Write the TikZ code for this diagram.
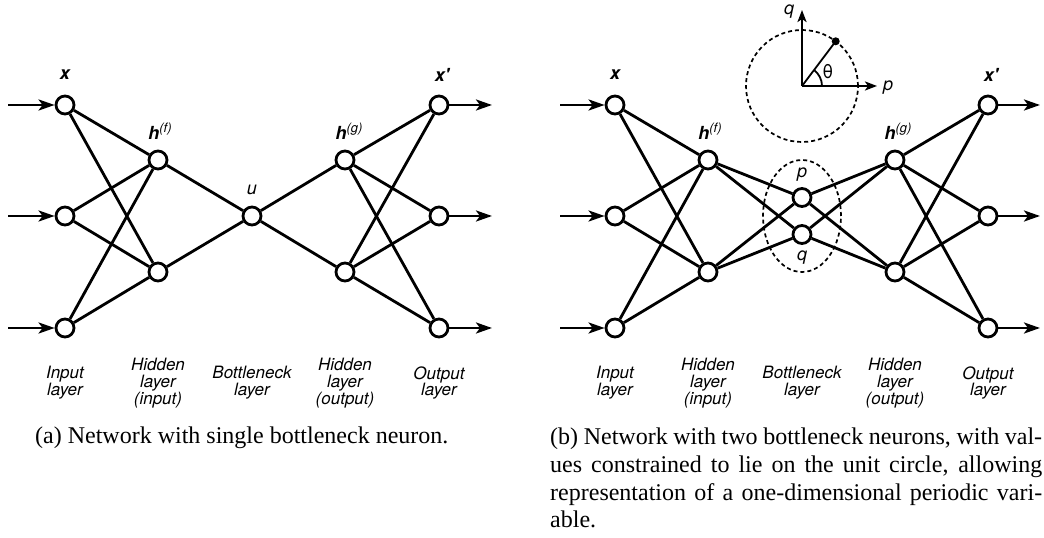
\documentclass[tikz,border=0pt]{standalone}
\usepackage{fontspec}
\setmainfont{Liberation Serif}
\newfontfamily\labfont{TeX Gyre Heros}
\usetikzlibrary{arrows.meta}
\tikzset{
  neuron/.style={circle, draw, line width=2.8pt, fill=white, minimum size=18pt, inner sep=0pt},
  conn/.style={line width=2.8pt},
  ioarrow/.style={line width=2.8pt, -{Stealth[length=16pt,width=11pt,inset=4pt]}},
  axisarrow/.style={line width=2.2pt, -{Stealth[length=12pt,width=9pt,inset=3pt]}},
  lab/.style={font=\labfont\itshape\fontsize{18}{18}\selectfont, inner sep=0pt},
  layerlab/.style={font=\labfont\itshape\fontsize{17}{16.7}\selectfont, align=center, inner sep=0pt},
  captext/.style={font=\fontsize{24}{28}\selectfont, inner sep=0pt, anchor=base west},
  dashedline/.style={dash pattern=on 4pt off 3pt, line width=1.7pt}
}
\newcommand{\supl}[1]{\raisebox{7pt}{\fontsize{13}{13}\selectfont\mdseries(#1)}}
\begin{document}
\begin{tikzpicture}[x=1pt,y=1pt]
\useasboundingbox (0,0) rectangle (1044,538);
% ---------------- panel (a) ----------------
\node[neuron] (a1) at (65,433) {};
\node[neuron] (a2) at (65,322) {};
\node[neuron] (a3) at (65,210) {};
\node[neuron] (af1) at (158,378) {};
\node[neuron] (af2) at (158,266) {};
\node[neuron] (au) at (252,322) {};
\node[neuron] (ag1) at (345,378) {};
\node[neuron] (ag2) at (345,266) {};
\node[neuron] (ao1) at (439,433) {};
\node[neuron] (ao2) at (439,322) {};
\node[neuron] (ao3) at (439,210) {};
\foreach \i in {a1,a2,a3}{\foreach \j in {af1,af2}{\draw[conn] (\i) -- (\j);}}
\foreach \i in {af1,af2}{\draw[conn] (\i) -- (au);}
\foreach \j in {ag1,ag2}{\draw[conn] (au) -- (\j);}
\foreach \i in {ag1,ag2}{\foreach \j in {ao1,ao2,ao3}{\draw[conn] (\i) -- (\j);}}
\coordinate (ain1) at (8,433);
\coordinate (ain2) at (8,322);
\coordinate (ain3) at (8,210);
\coordinate (aout1) at (492,433);
\coordinate (aout2) at (492,322);
\coordinate (aout3) at (492,210);
\draw[ioarrow] (ain1) -- (a1);
\draw[ioarrow] (ain2) -- (a2);
\draw[ioarrow] (ain3) -- (a3);
\draw[ioarrow] (ao1) -- (aout1);
\draw[ioarrow] (ao2) -- (aout2);
\draw[ioarrow] (ao3) -- (aout3);
\node[lab] (lax) at (65,463) {\bfseries x};
\node[lab, anchor=base] (lahf) at (160,398) {\textbf{h}\supl{f}};
\node[lab] (lau) at (252,348) {u};
\node[lab, anchor=base] (lahg) at (349,398) {\textbf{h}\supl{g}};
\node[lab] (laxp) at (442,463) {\bfseries x'};
\node[layerlab] (lli) at (65,155) {Input\\layer};
\node[layerlab] (llhi) at (158,155) {Hidden\\layer\\(input)};
\node[layerlab] (llb) at (252,155) {Bottleneck\\layer};
\node[layerlab] (llho) at (345,155) {Hidden\\layer\\(output)};
\node[layerlab] (llo) at (439,155) {Output\\layer};
\node[captext] (capa) at (35,94) {(a) Network with single bottleneck neuron.};
% ---------------- panel (b) ----------------
\draw[dashedline] (802,322) ellipse[x radius=39, y radius=56];
\node[neuron] (b1) at (615,433) {};
\node[neuron] (b2) at (615,322) {};
\node[neuron] (b3) at (615,210) {};
\node[neuron] (bf1) at (708,378) {};
\node[neuron] (bf2) at (708,266) {};
\node[neuron] (bp) at (802,340.5) {};
\node[neuron] (bq) at (802,303.5) {};
\node[neuron] (bg1) at (895,378) {};
\node[neuron] (bg2) at (895,266) {};
\node[neuron] (bo1) at (988,433) {};
\node[neuron] (bo2) at (988,322) {};
\node[neuron] (bo3) at (988,210) {};
\foreach \i in {b1,b2,b3}{\foreach \j in {bf1,bf2}{\draw[conn] (\i) -- (\j);}}
\foreach \i in {bf1,bf2}{\foreach \j in {bp,bq}{\draw[conn] (\i) -- (\j);}}
\foreach \i in {bp,bq}{\foreach \j in {bg1,bg2}{\draw[conn] (\i) -- (\j);}}
\foreach \i in {bg1,bg2}{\foreach \j in {bo1,bo2,bo3}{\draw[conn] (\i) -- (\j);}}
\coordinate (bin1) at (560,433);
\coordinate (bin2) at (560,322);
\coordinate (bin3) at (560,210);
\coordinate (bout1) at (1040,433);
\coordinate (bout2) at (1040,322);
\coordinate (bout3) at (1040,210);
\draw[ioarrow] (bin1) -- (b1);
\draw[ioarrow] (bin2) -- (b2);
\draw[ioarrow] (bin3) -- (b3);
\draw[ioarrow] (bo1) -- (bout1);
\draw[ioarrow] (bo2) -- (bout2);
\draw[ioarrow] (bo3) -- (bout3);
\node[lab] (lbx) at (615,463) {\bfseries x};
\node[lab, anchor=base] (lbhf) at (710,398) {\textbf{h}\supl{f}};
\node[lab, anchor=base] (lbhg) at (898,398) {\textbf{h}\supl{g}};
\node[lab] (lbxp) at (991,463) {\bfseries x'};
\node[lab, anchor=base] (lbp) at (802,360) {p};
\node[lab, anchor=base] (lbq) at (802,277) {q};
% unit circle
\coordinate (o) at (802,452);
\coordinate (qtip) at (802,528);
\coordinate (ptip) at (877,452);
\coordinate (pt) at (835.7,496.7);
\draw[dashedline] (o) circle[radius=56];
\draw[axisarrow] (o) -- (qtip);
\draw[axisarrow] (o) -- (ptip);
\draw[line width=1.8pt] (o) -- (pt);
\fill (pt) circle[radius=4];
\draw[line width=1.8pt] (822,452) arc[start angle=0, end angle=53, radius=20];
\node[lab] (lq) at (789,526) {q};
\node[lab] (lp) at (888,450) {p};
\node[lab, font=\labfont\fontsize{19}{19}\selectfont] (lth) at (828,466) {θ};
\node[layerlab] (lmi) at (615,155) {Input\\layer};
\node[layerlab] (lmhi) at (708,155) {Hidden\\layer\\(input)};
\node[layerlab] (lmb) at (802,155) {Bottleneck\\layer};
\node[layerlab] (lmho) at (895,155) {Hidden\\layer\\(output)};
\node[layerlab] (lmo) at (988,155) {Output\\layer};
\node[captext] (capb1) at (550,93) {\makebox[492pt][s]{(b) Network with two bottleneck neurons, with val-}};
\node[captext] (capb2) at (550,65) {\makebox[492pt][s]{ues constrained to lie on the unit circle, allowing}};
\node[captext] (capb3) at (550,37) {\makebox[492pt][s]{representation of a one-dimensional periodic vari-}};
\node[captext] (capb4) at (550,10) {able.};
\end{tikzpicture}
\end{document}
